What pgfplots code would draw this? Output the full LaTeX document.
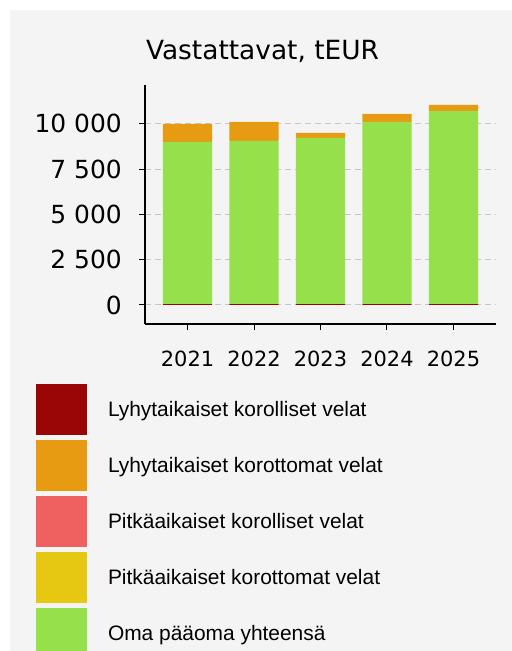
\documentclass[border=0pt]{standalone}
\usepackage{pgfplots}
\pgfplotsset{compat=1.18}
\usepackage{fontspec}
\setmainfont{DejaVu Sans}
\newfontfamily\arial{Liberation Sans}
\definecolor{cdred}{HTML}{9A0606}
\definecolor{corange}{HTML}{E69B13}
\definecolor{cpink}{HTML}{EF6060}
\definecolor{cyellow}{HTML}{E6C813}
\definecolor{cgreen}{HTML}{95E04B}
\definecolor{bgc}{HTML}{F4F4F4}
\pgfplotsset{swatch/.style={draw=none, fill=#1,
  legend image code/.code={\fill[##1] (0bp,-18bp) rectangle (51bp,33bp);}}}
\begin{document}
\begin{tikzpicture}
\path[use as bounding box] (0bp,0bp) rectangle (512bp,651bp);
\clip (0bp,0bp) rectangle (512bp,651bp);
\fill[white] (0bp,0bp) rectangle (512bp,651bp);
\fill[bgc] (10bp,0bp) rectangle (512bp,641bp);
\begin{axis}[
  at={(145bp,327bp)}, anchor=south west,
  scale only axis, width=351bp, height=239bp,
  ybar stacked, bar width=0.74,
  xmin=-0.64, xmax=4.64, ymin=-1050, ymax=12150,
  axis x line*=bottom, axis y line*=left,
  axis line style={black, line width=1.1bp},
  tick align=outside, major tick length=6bp,
  tick style={black, line width=1bp},
  xtick={0,1,2,3,4}, xticklabels={2021,2022,2023,2024,2025},
  ytick={0,2500,5000,7500,10000},
  yticklabels={0,2 500,5 000,7 500,10 000},
  scaled y ticks=false,
  x tick label style={font=\fontsize{21}{25}\selectfont, anchor=north, inner sep=0pt, yshift=-21bp},
  y tick label style={font=\fontsize{25}{30}\selectfont, anchor=east, inner sep=0pt, xshift=-17bp},
  ymajorgrids,
  major grid style={dash pattern=on 6bp off 4bp, color=black!22, line width=1bp},
  title={Vastattavat, tEUR},
  title style={at={(axis description cs:0.3348,1.0837)}, anchor=base, inner sep=0pt, font=\fontsize{26.5}{30}\selectfont},
  legend style={draw=none, fill=none, at={(axis description cs:-0.3105,-0.2510)}, anchor=north west,
    inner sep=0pt, outer sep=0pt, row sep=5bp,
    font=\arial\fontsize{21}{25}\selectfont,
    nodes={anchor=base west, inner sep=0pt},
    /tikz/every odd column/.append style={column sep=21bp}},
  legend cell align=left,
]
\addplot[fill=cdred, draw=none, forget plot] coordinates {(0,50) (1,50) (2,50) (3,50) (4,50)};
\addplot[fill=cgreen, draw=none, forget plot] coordinates {(0,8956) (1,9011) (2,9177) (3,10060) (4,10668)};
\addplot[fill=corange, draw=none, forget plot] coordinates {(0,994) (1,1049) (2,276) (3,442) (4,332)};
\addlegendimage{swatch=cdred}
\addlegendentry{Lyhytaikaiset korolliset velat}
\addlegendimage{swatch=corange}
\addlegendentry{Lyhytaikaiset korottomat velat}
\addlegendimage{swatch=cpink}
\addlegendentry{Pitkäaikaiset korolliset velat}
\addlegendimage{swatch=cyellow}
\addlegendentry{Pitkäaikaiset korottomat velat}
\addlegendimage{swatch=cgreen}
\addlegendentry{Oma pääoma yhteensä}
\end{axis}
\end{tikzpicture}
\end{document}
